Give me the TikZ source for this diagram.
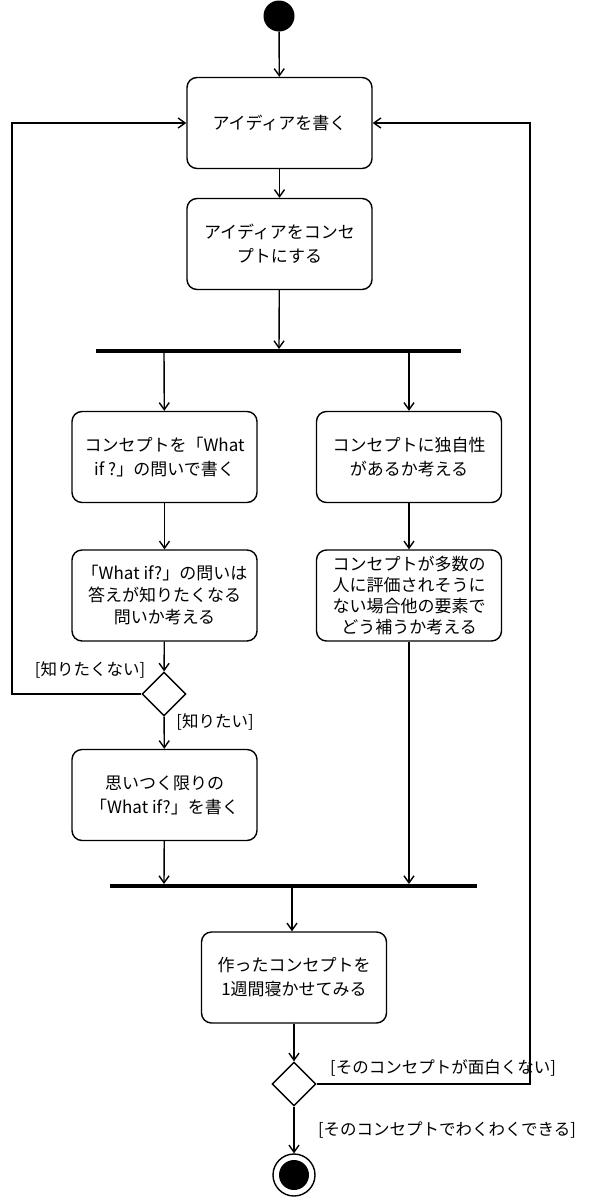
\documentclass[tikz,border=0pt]{standalone}
\usepackage{fontspec}
\setmainfont{Noto Sans CJK JP}
\usetikzlibrary{arrows.meta,shapes.geometric}
\begin{document}
\begin{tikzpicture}[x=1pt,y=-1pt,
  font=\fontsize{17}{24}\selectfont,
  act/.style={draw,line width=1.4pt,rounded corners=10pt,minimum width=185pt,minimum height=91pt,align=center,inner sep=1pt},
  bar/.style={line width=4pt},
  dec/.style={draw,line width=1.4pt,diamond,minimum width=44pt,minimum height=44pt,inner sep=0pt},
  arr/.style={line width=1.4pt,-{Straight Barb[length=7pt,width=10pt]}},
  lbl/.style={font=\fontsize{16.5}{20}\selectfont}]
\useasboundingbox (0,0) rectangle (608,1200);
\node (s) [circle,fill=black,minimum size=31pt,inner sep=0pt] at (279,16) {};
\node (b1) [act] at (279.5,123) {アイディアを書く};
\node (b2) [act] at (279.5,244) {アイディアをコンセ\\プトにする};
\coordinate (f1l) at (96,351); \coordinate (f1r) at (461,351);
\draw[bar] (f1l) -- (f1r);
\node (b3) [act] at (164.5,457) {コンセプトを「What\\if ?」の問いで書く};
\node (b4) [act] at (409,457) {コンセプトに独自性\\があるか考える};
\node (b5) [act,font=\fontsize{17}{22}\selectfont] at (164.5,595.5) {「What if?」の問いは\\答えが知りたくなる\\問いか考える};
\node (b6) [act,font=\fontsize{17}{21}\selectfont] at (409,595.5) {コンセプトが多数の\\人に評価されそうに\\ない場合他の要素で\\どう補うか考える};
\node (d1) [dec] at (164,694) {};
\node (b7) [act] at (164.5,795) {思いつく限りの\\「What if?」を書く};
\coordinate (f2l) at (110,886); \coordinate (f2r) at (477,886);
\draw[bar] (f2l) -- (f2r);
\node (b8) [act] at (294,977.5) {作ったコンセプトを\\1週間寝かせてみる};
\node (d2) [dec] at (294,1084) {};
\node (e) [circle,draw,line width=1.4pt,minimum size=42pt,inner sep=0pt] at (294,1175) {};
\node (ei) [circle,fill=black,minimum size=30pt,inner sep=0pt] at (294,1175) {};
\draw[arr] (s) -- (b1);
\draw[arr] (b1) -- (b2);
\draw[arr] (b2) -- (279,349);
\draw[arr] (164,351) -- (b3);
\draw[arr] (409,351) -- (b4);
\draw[arr] (b3) -- (b5);
\draw[arr] (b4) -- (b6);
\draw[arr] (b5) -- (d1);
\draw[arr] (d1) -- (b7);
\node[lbl] (l0) at (215,722) {[知りたい]};
\draw[arr] (d1.west) -- (12,694) -- (12,123) -- (b1.west);
\node[lbl] (l1) at (90,670) {[知りたくない]};
\draw[arr] (b6) -- (409,884);
\draw[arr] (b7) -- (164,884);
\draw[arr] (292,886) -- (b8.north -| 292,0);
\draw[arr] (b8) -- (d2);
\draw[arr] (d2.east) -- (530,1084) -- (530,123) -- (b1.east);
\node[lbl] (l2) at (443,1068) {[そのコンセプトが面白くない]};
\draw[arr] (d2) -- (e);
\node[lbl] (l3) at (447,1130) {[そのコンセプトでわくわくできる]};
\end{tikzpicture}
\end{document}
